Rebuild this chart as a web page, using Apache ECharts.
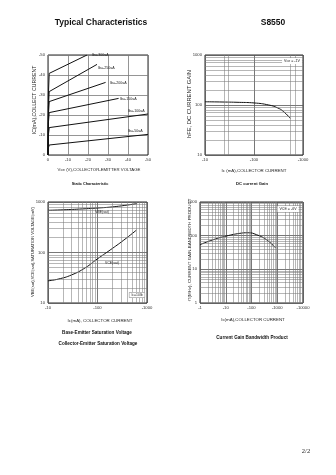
<!DOCTYPE html>
<html><head><meta charset="utf-8">
<script src="https://cdn.jsdelivr.net/npm/echarts@6/dist/echarts.min.js"></script>
<style>html,body{margin:0;padding:0;background:#fff}#c{width:336px;height:475px}</style>
</head><body><div id="c"></div>
<script>
// ---------- Chart 1: Static Characteristic (Ic vs Vce) ----------
const ibNames = ['Ib=-300uA','Ib=-250uA','Ib=-200uA','Ib=-150uA','Ib=-100uA','Ib=-50uA'];
const ib300 = [[0,0],[-0.2,-30],[-0.6,-40.8],[-19.5,-50]];
const ib250 = [[0,0],[-0.2,-24],[-0.6,-31.7],[-24.5,-45.3]];
const ib200 = [[0,0],[-0.2,-20],[-0.6,-26.7],[-28.8,-36.3]];
const ib150 = [[0,0],[-0.2,-16],[-0.6,-21.2],[-35.3,-28.3]];
const ib100 = [[0,0],[-0.2,-10],[-0.6,-13.7],[-50,-20.5]];
const ib50  = [[0,0],[-0.2,-3.5],[-0.6,-5.0],[-50,-10.3]];
const vceTicks1 = [0,-10,-20,-30,-40,-50];
const icTicks1  = [0,-10,-20,-30,-40,-50];

// ---------- Chart 2: DC current gain ----------
const ic2  = [10, 20, 50, 100, 200, 300, 400, 550];
const hfe2 = [116, 115, 113, 110, 100, 88, 74, 54];
const xTicks2 = [10, 100, 1000];
const xLabels2 = ['-10','-100','-1000'];
const yTicks2 = [10, 100, 1000];
const xMinor2 = [25, 30, 550, 700];

// ---------- Chart 3: Saturation voltages ----------
const icVbe = [10, 20, 50, 100, 200, 400, 630];
const vbeSat = [685, 700, 730, 760, 800, 870, 930];
const icVce = [10, 16, 30, 57, 98, 180, 340, 610];
const vceSat = [27.5, 29.7, 36, 50, 74, 112, 176, 277];
const xTicks3 = [10, 100, 1000];
const xLabels3 = ['-10','-100','-1000'];
const yTicks3 = [10, 100, 1000];

// ---------- Chart 4: fT ----------
const ic4 = [1, 3.3, 10.8, 35, 74, 156, 380, 870];
const ft4 = [54, 76, 98, 117, 122, 107, 76, 43];
const xTicks4 = [1, 10, 100, 1000, 10000];
const xLabels4 = ['-1','-10','-100','-1000','-10000'];
const yTicks4 = [1, 10, 100, 1000];

function minors(lo, hi){ // 2..9 x each decade between lo and hi (gridlines only)
  const out=[]; for(let d=lo; d<hi; d*=10){ for(let m=2;m<=9;m++) out.push(d*m);} return out;
}
const FF = '"Liberation Sans", Arial, sans-serif';
const tickFont = {fontSize:4.2, color:'#333', fontFamily:FF};

function baseAxis(extra){
  return Object.assign({
    axisLine:{show:false}, axisTick:{show:false},
    splitLine:{show:true, lineStyle:{color:'#555', width:0.8}},
  }, extra);
}
function lab(ticks, labels, margin){
  return Object.assign({}, tickFont, {margin: margin, formatter: function(v){
    const i = ticks.findIndex(t => Math.abs(Math.log10(Math.abs(t)||1) - Math.log10(Math.abs(v)||1))<1e-6 && Math.sign(t)===Math.sign(v));
    return i>=0 ? labels[i] : '';
  }});
}
function gridLines(xs, ys){
  const data=[];
  (xs||[]).forEach(v=>data.push({xAxis:v}));
  (ys||[]).forEach(v=>data.push({yAxis:v}));
  return {silent:true, symbol:['none','none'], label:{show:false},
          lineStyle:{type:'solid', color:'#7a7a7a', width:0.55}, data:data, animation:false};
}
const curve = {type:'line', showSymbol:false, animation:false, lineStyle:{color:'#111', width:1}, itemStyle:{color:'#111'}};

const series = [];
[ib300, ib250, ib200, ib150, ib100, ib50].forEach((d,i)=>{
  series.push(Object.assign({}, curve, {name:ibNames[i], xAxisIndex:0, yAxisIndex:0, data:d}));
});
series.push(Object.assign({}, curve, {name:'hFE', xAxisIndex:1, yAxisIndex:1, smooth:true,
  data: ic2.map((x,i)=>[x,hfe2[i]]), markLine: gridLines(xMinor2, minors(10,1000))}));
series.push(Object.assign({}, curve, {name:'VBE(sat)', xAxisIndex:2, yAxisIndex:2, smooth:true,
  data: icVbe.map((x,i)=>[x,vbeSat[i]]), markLine: gridLines(minors(10,1000), minors(10,1000))}));
series.push(Object.assign({}, curve, {name:'VCE(sat)', xAxisIndex:2, yAxisIndex:2, smooth:true,
  data: icVce.map((x,i)=>[x,vceSat[i]])}));
series.push(Object.assign({}, curve, {name:'fT', xAxisIndex:3, yAxisIndex:3, smooth:true,
  data: ic4.map((x,i)=>[x,ft4[i]]), markLine: gridLines(minors(1,10000), minors(1,1000))}));

const frame = {show:true, borderColor:'#111', borderWidth:0.9, backgroundColor:'transparent'};
function T(x,y,text,size,align){
  return {type:'text', x:x, y:y, silent:true, z:100,
    style:{text:text, fontSize:size, fontFamily:FF, fill:'#222', align:align||'center', verticalAlign:'middle'}};
}
function TV(x,y,text,size){ const t=T(x,y,text,size); t.rotation=Math.PI/2; return t; }
function TB(x,y,text,size){ const t=T(x,y,text,size); t.style.fontWeight='bold'; t.style.fill='#111'; return t; }
function Box(x,y,text,size,border){
  const t=T(x,y,text,size); t.style.backgroundColor='#fff'; t.style.padding=[1,2];
  if(border){ t.style.borderColor='#777'; t.style.borderWidth=0.5; }
  return t;
}

const option = {
  animation:false,
  backgroundColor:'#fff',
  grid:[
    Object.assign({left:48, top:55, width:100, height:100}, frame),
    Object.assign({left:205, top:55, width:98, height:100}, frame),
    Object.assign({left:48, top:202, width:99, height:101}, frame),
    Object.assign({left:200, top:202, width:103, height:101}, frame)
  ],
  xAxis:[
    baseAxis({gridIndex:0, type:'value', min:-50, max:0, interval:10, inverse:true,
      splitLine:{show:true, lineStyle:{color:'#7a7a7a', width:0.8}},
      axisLabel: Object.assign({}, tickFont, {margin:3, formatter:v=>String(vceTicks1[vceTicks1.indexOf(v)])})}),
    baseAxis({gridIndex:1, type:'log', logBase:10, min:10, max:1000, axisLabel: lab(xTicks2, xLabels2, 3)}),
    baseAxis({gridIndex:2, type:'log', logBase:10, min:10, max:1000, axisLabel: lab(xTicks3, xLabels3, 3)}),
    baseAxis({gridIndex:3, type:'log', logBase:10, min:1, max:10000, axisLabel: lab(xTicks4, xLabels4, 3)})
  ],
  yAxis:[
    baseAxis({gridIndex:0, type:'value', min:-50, max:0, interval:10, inverse:true,
      splitLine:{show:true, lineStyle:{color:'#7a7a7a', width:0.8}},
      axisLabel: Object.assign({}, tickFont, {margin:3, formatter:v=>String(icTicks1[icTicks1.indexOf(v)])})}),
    baseAxis({gridIndex:1, type:'log', logBase:10, min:10, max:1000, axisLabel: lab(yTicks2, yTicks2.map(String), 3)}),
    baseAxis({gridIndex:2, type:'log', logBase:10, min:10, max:1000, axisLabel: lab(yTicks3, yTicks3.map(String), 3)}),
    baseAxis({gridIndex:3, type:'log', logBase:10, min:1, max:1000, axisLabel: lab(yTicks4, yTicks4.map(String), 3)})
  ],
  series: series,
  graphic:[
    TB(101, 23, 'Typical Characteristics', 8.5),
    TB(273, 23, 'S8550', 8.5),
    // chart 1
    TV(35, 100, 'IC(mA),COLLECT CURRENT', 5.2),
    T(99, 170, 'Vce (V),COLLECTOR-EMITTER VOLTAGE', 4.3),
    TB(90, 184, 'Static Characteristic', 3.8),
    T(92, 55, ibNames[0], 3.6, 'left'),
    T(98, 68, ibNames[1], 3.6, 'left'),
    T(110, 83, ibNames[2], 3.6, 'left'),
    T(120, 99, ibNames[3], 3.6, 'left'),
    T(128, 111, ibNames[4], 3.6, 'left'),
    T(128, 131, ibNames[5], 3.6, 'left'),
    // chart 2
    TV(189, 104, 'hFE, DC CURRENT GAIN', 5.8),
    T(254, 171, 'Ic (mA),COLLECTOR CURRENT', 4.4),
    TB(252, 184, 'DC current Gain', 4.2),
    Box(292, 61, 'Vce = -1V', 3.6, false),
    // chart 3
    TV(33, 252, 'VBE(sat),VCE(sat),SATURATION VOLTAGE(mV)', 4.1),
    T(100, 321, 'Ic(mA), COLLECTOR CURRENT', 4.4),
    TB(97, 333, 'Base-Emitter Saturation Voltage', 4.6),
    TB(98, 344, 'Collector-Emitter Saturation Voltage', 4.6),
    T(102, 212, 'VBE(sat)', 3.4),
    T(112, 263, 'VCE(sat)', 3.4),
    Box(137, 295, 'Ic=10Ib', 3.4, true),
    // chart 4
    TV(190, 250, 'fT(MHz), CURRENT GAIN-BANDWIDTH PRODUCT', 4.4),
    T(253, 320, 'Ic(mA),COLLECTOR CURRENT', 4.4),
    TB(252, 338, 'Current Gain Bandwidth Product', 4.6),
    Box(288, 209, 'VCE = -6V', 3.6, false),
    // footer
    {type:'text', x:306, y:451, silent:true, style:{text:'2/2', fontSize:6.5, fontFamily:'"Liberation Serif", serif', fill:'#222', align:'center', verticalAlign:'middle'}}
  ]
};
const chart = echarts.init(document.getElementById('c'), null, {renderer:'canvas'});
chart.setOption(option);
</script></body></html>
